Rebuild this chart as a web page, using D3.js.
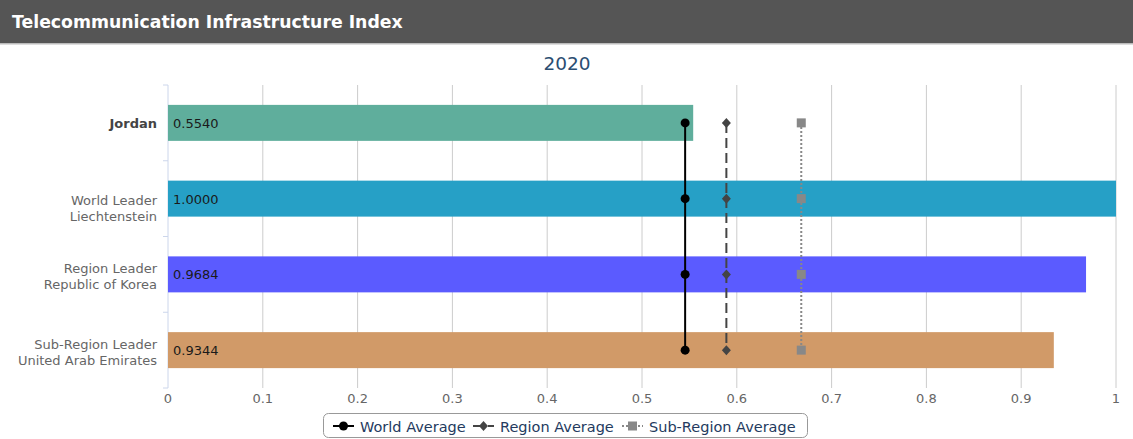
<!DOCTYPE html>
<html><head><meta charset="utf-8">
<script src="https://cdn.jsdelivr.net/npm/d3@7"></script>
<style>
html,body{margin:0;padding:0;background:#fff;}
svg{display:block;}
</style>
</head><body>
<svg id="c" width="1133" height="439"></svg>
<script>
const titleText = "Telecommunication Infrastructure Index";
const yearText = "2020";
const categories = ["Jordan", "World Leader\nLiechtenstein", "Region Leader\nRepublic of Korea", "Sub-Region Leader\nUnited Arab Emirates"];
const values = [0.5540, 1.0000, 0.9684, 0.9344];
const barColors = ["#5fae9c", "#26a0c6", "#5b5bff", "#d19a68"];
const avgNames = ["World Average", "Region Average", "Sub-Region Average"];
const avgValues = [0.5455, 0.5890, 0.6680];
const xTicks = [0, 0.1, 0.2, 0.3, 0.4, 0.5, 0.6, 0.7, 0.8, 0.9, 1];

const svg = d3.select("#c");
const W = 1133;

// title bar
svg.append("rect").attr("x",0).attr("y",0).attr("width",W).attr("height",43).attr("fill","#555555");
svg.append("rect").attr("x",0).attr("y",43).attr("width",W).attr("height",1.5).attr("fill","#bbbbbb");
svg.append("text").attr("x",12).attr("y",28).text(titleText)
  .attr("fill","#fff").attr("font-family","DejaVu Sans").attr("font-weight","bold").attr("font-size",17.3);

svg.append("text").attr("x",567).attr("y",70).attr("text-anchor","middle").text(yearText)
  .attr("fill","#2b4e72").attr("font-family","DejaVu Sans").attr("font-size",18.5);

const x = d3.scaleLinear().domain([0,1]).range([168,1116]);
const y = d3.scaleBand().domain(categories).range([85,388]).paddingInner(0.525).paddingOuter(0.2625);

// gridlines
svg.append("g").selectAll("line").data(xTicks.slice(1)).join("line")
  .attr("x1",d=>x(d)).attr("x2",d=>x(d)).attr("y1",85).attr("y2",388)
  .attr("stroke","#cccccc").attr("stroke-width",1);

// left axis line + category ticks
const bandEdges = d3.range(categories.length+1).map(i=>85 + i*(388-85)/categories.length);
svg.append("line").attr("x1",168).attr("x2",168).attr("y1",85).attr("y2",388).attr("stroke","#ccd6eb").attr("stroke-width",1);
svg.append("g").selectAll("line").data(bandEdges).join("line")
  .attr("x1",163).attr("x2",168).attr("y1",d=>d).attr("y2",d=>d).attr("stroke","#ccd6eb");

// x tick labels
svg.append("g").selectAll("text").data(xTicks).join("text")
  .attr("x",d=>x(d)).attr("y",403).attr("text-anchor","middle")
  .attr("fill","#666").attr("font-family","DejaVu Sans").attr("font-size",13)
  .text(d=>d3.format("~g")(d));

// bars
svg.append("g").selectAll("rect").data(values).join("rect")
  .attr("x",x(0)).attr("y",(d,i)=>y(categories[i])).attr("width",d=>x(d)-x(0)).attr("height",y.bandwidth())
  .attr("fill",(d,i)=>barColors[i]);

// value labels
svg.append("g").selectAll("text").data(values).join("text")
  .attr("x",x(0)+5).attr("y",(d,i)=>y(categories[i])+y.bandwidth()/2+5)
  .attr("fill","#1a1a1a").attr("font-family","DejaVu Sans").attr("font-size",13)
  .text(d=>d.toFixed(4));

// category labels
categories.forEach((c,i)=>{
  const lines = c.split("\n");
  const cy = y(c)+y.bandwidth()/2 + (lines.length>1 ? (i===1 ? 9 : 2) : 0);
  const t = svg.append("text").attr("text-anchor","end").attr("font-family","DejaVu Sans").attr("font-size",13)
    .attr("fill", i===0 ? "#444" : "#666").attr("font-weight", i===0 ? "bold" : "normal");
  const lh = 16;
  lines.forEach((l,j)=>{
    t.append("tspan").attr("x",157).attr("y",cy + 5 + (j-(lines.length-1)/2)*lh).text(l);
  });
});

// average lines
const styles = [
  {color:"#000000", dash:null, width:2, marker:"circle"},
  {color:"#444444", dash:"10,5", width:2, marker:"diamond"},
  {color:"#888888", dash:"2,2", width:2, marker:"square"}
];
const cyFirst = y(categories[0])+y.bandwidth()/2;
const cyLast = y(categories[categories.length-1])+y.bandwidth()/2;
function drawMarker(g, type, cx, cy, color){
  if(type==="circle") g.append("circle").attr("cx",cx).attr("cy",cy).attr("r",4.5).attr("fill",color);
  else if(type==="diamond") g.append("path").attr("d",`M${cx},${cy-5}L${cx+4.5},${cy}L${cx},${cy+5}L${cx-4.5},${cy}Z`).attr("fill",color);
  else g.append("rect").attr("x",cx-4.5).attr("y",cy-4.5).attr("width",9).attr("height",9).attr("fill",color);
}
avgValues.forEach((v,k)=>{
  const s = styles[k];
  const g = svg.append("g");
  const ln = g.append("line").attr("x1",x(v)).attr("x2",x(v)).attr("y1",cyFirst).attr("y2",cyLast)
    .attr("stroke",s.color).attr("stroke-width",s.width);
  if(s.dash) ln.attr("stroke-dasharray",s.dash);
  categories.forEach(c=>{
    drawMarker(g, s.marker, x(v), y(c)+y.bandwidth()/2, s.color);
  });
});

// legend
const lg = svg.append("g");
lg.append("rect").attr("x",323.5).attr("y",413.5).attr("width",484).attr("height",24).attr("rx",5)
  .attr("fill","#fff").attr("stroke","#999").attr("stroke-width",1);
const legX = [333, 473, 622];
avgNames.forEach((n,k)=>{
  const s = styles[k];
  const lx = legX[k], ly = 426;
  const ln = lg.append("line").attr("x1",lx).attr("x2",lx+21).attr("y1",ly).attr("y2",ly)
    .attr("stroke",s.color).attr("stroke-width",2);
  if(s.dash) ln.attr("stroke-dasharray",s.dash);
  drawMarker(lg, s.marker, lx+10.5, ly, s.color);
  lg.append("text").attr("x",lx+27).attr("y",ly+5.5).text(n)
    .attr("fill","#243a5e").attr("font-family","DejaVu Sans").attr("font-size",14.5);
});
</script>
</body></html>
